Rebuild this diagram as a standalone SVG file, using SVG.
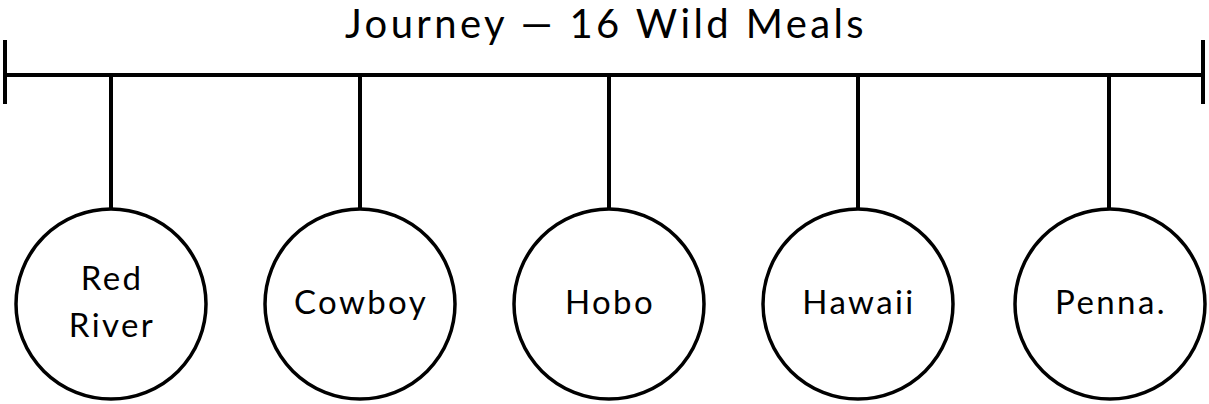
<svg xmlns="http://www.w3.org/2000/svg" width="1209" height="404" viewBox="0 0 1209 404">
<style>
.ln{stroke:#000;stroke-width:4;fill:none}
.nd{stroke:#000;stroke-width:3.5;fill:#fff}
.t{font-family:Lato,"Noto Sans",sans-serif;fill:#000;text-anchor:middle}
.lb{font-size:33px;letter-spacing:2.4px}
.ti{font-size:40px;letter-spacing:3.4px}
</style>
<rect width="1209" height="404" fill="#fff"/>
<text class="t ti" x="606" y="38">Journey — 16 Wild Meals</text>
<g id="connectors">
<line class="ln" x1="5" y1="75" x2="1203" y2="75"/>
<line class="ln" x1="5" y1="40" x2="5" y2="104"/>
<line class="ln" x1="1203" y1="40" x2="1203" y2="104"/>
<line class="ln" x1="111" y1="73" x2="111" y2="208"/>
<line class="ln" x1="360" y1="73" x2="360" y2="208"/>
<line class="ln" x1="609" y1="73" x2="609" y2="208"/>
<line class="ln" x1="858" y1="73" x2="858" y2="208"/>
<line class="ln" x1="1109" y1="73" x2="1109" y2="208"/>
</g>
<g id="n1"><circle class="nd" cx="111" cy="304" r="95"/><text class="t lb" x="111" y="290"><tspan x="112">Red</tspan><tspan x="112" dy="47">River</tspan></text></g>
<g id="n2"><circle class="nd" cx="360" cy="304" r="95"/><text class="t lb" x="361" y="314">Cowboy</text></g>
<g id="n3"><circle class="nd" cx="609" cy="304" r="95"/><text class="t lb" x="610" y="314">Hobo</text></g>
<g id="n4"><circle class="nd" cx="858" cy="304" r="95"/><text class="t lb" x="859" y="314">Hawaii</text></g>
<g id="n5"><circle class="nd" cx="1110" cy="304" r="95"/><text class="t lb" x="1111" y="314">Penna.</text></g>
</svg>
